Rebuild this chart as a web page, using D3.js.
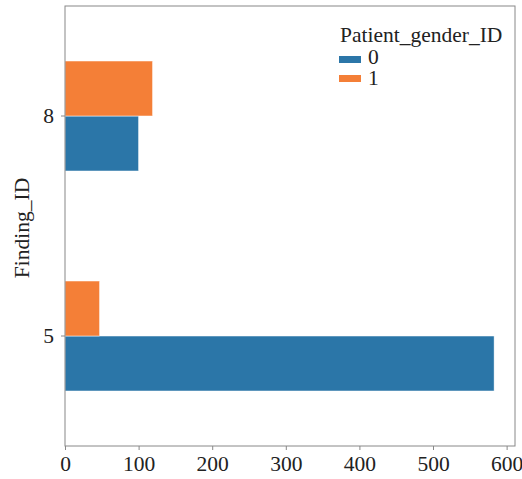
<!DOCTYPE html>
<html><head><meta charset="utf-8">
<script src="https://cdn.jsdelivr.net/npm/d3@7"></script>
<style>body{margin:0;background:#fff}svg{display:block}text{font-family:"Liberation Serif","Times New Roman",serif;fill:#222}</style>
</head><body><svg id="c" width="522" height="479"></svg>
<script>
const categories = ["8", "5"];
const seriesKeys = ["0", "1"];
const values0 = [100, 583];
const values1 = [119, 47];
const xTicks = [0, 100, 200, 300, 400, 500, 600];
const colors = ["#2b76a8", "#f47f37"];

const svg = d3.select("#c");
const L = 65, R = 515, T = 6, B = 446;
const FS = "21.5px";
const x = d3.scaleLinear().domain([0, 611.4]).range([L, R]);
const y = d3.scaleBand().domain(categories).range([T, B]).paddingInner(0.5).paddingOuter(0.25);
const sub = d3.scaleBand().domain(["1", "0"]).range([0, y.bandwidth()]);

const data = [];
categories.forEach((c, i) => {
  data.push({cat: c, key: "0", v: values0[i]});
  data.push({cat: c, key: "1", v: values1[i]});
});

svg.append("g").selectAll("rect").data(data).join("rect")
  .attr("x", x(0))
  .attr("y", d => y(d.cat) + sub(d.key))
  .attr("width", d => x(d.v) - x(0))
  .attr("height", sub.bandwidth())
  .attr("fill", d => colors[seriesKeys.indexOf(d.key)])
  .attr("stroke", "#fff").attr("stroke-width", 0.5);

// frame
svg.append("rect").attr("x", L).attr("y", T).attr("width", R - L).attr("height", B - T)
  .attr("fill", "none").attr("stroke", "#888").attr("stroke-width", 1);

const xa = svg.append("g").attr("transform", `translate(0,${B})`)
  .call(d3.axisBottom(x).tickValues(xTicks).tickSize(4).tickPadding(6).tickFormat(d3.format("d")));
xa.select(".domain").remove();
xa.selectAll("line").attr("stroke", "#888");
xa.selectAll("text").style("font-size", FS).attr("fill", "#222");

const ya = svg.append("g").attr("transform", `translate(${L},0)`)
  .call(d3.axisLeft(y).tickSize(4).tickPadding(7));
ya.select(".domain").remove();
ya.selectAll("line").attr("stroke", "#888");
ya.selectAll("text").style("font-size", FS).attr("fill", "#222");

svg.append("text").attr("transform", "translate(29,228) rotate(-90)")
  .attr("text-anchor", "middle").style("font-size", FS).text("Finding_ID");

// legend
const lg = svg.append("g");
lg.append("text").attr("x", 340).attr("y", 42).style("font-size", FS).text("Patient_gender_ID");
seriesKeys.forEach((k, i) => {
  lg.append("rect").attr("x", 339).attr("y", 56 + i * 19).attr("width", 22).attr("height", 7).attr("fill", colors[i]);
  lg.append("text").attr("x", 368).attr("y", 64 + i * 21).style("font-size", FS).text(k);
});
</script></body></html>
